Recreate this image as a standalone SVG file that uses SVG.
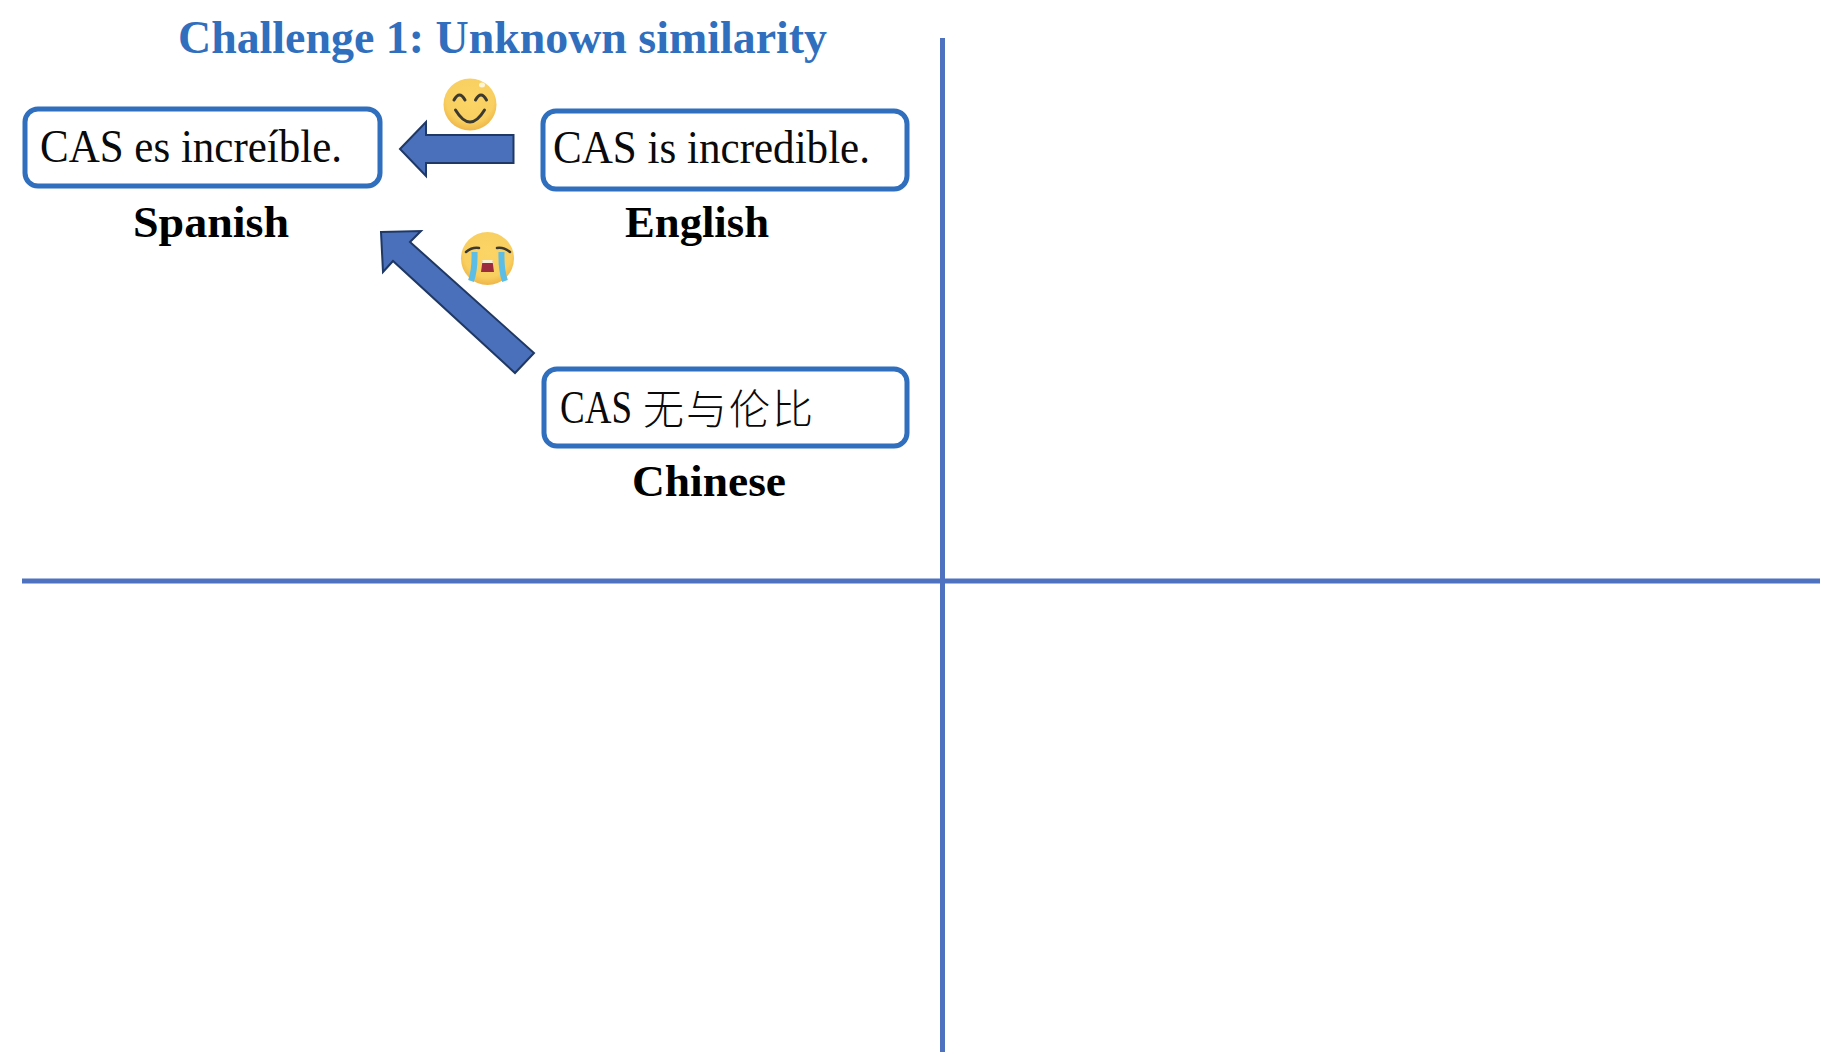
<svg xmlns="http://www.w3.org/2000/svg" width="1834" height="1062" viewBox="0 0 1834 1062">
<style>
text{font-family:"Liberation Serif","Noto Sans CJK SC",serif;fill:#0a0a0a}
.title{font-size:46px;font-weight:700;fill:#2f6fbd}
.box{fill:#fff;stroke:#2f6fbd;stroke-width:5}
.t{font-size:46px}
.cjk{font-family:"Noto Sans CJK SC",sans-serif;font-size:41px;font-weight:300}
.lab{font-size:45px;font-weight:700;fill:#000}
.axis{stroke:#4e72bf;stroke-width:5;fill:none}
.arrow{fill:#4a70bb;stroke:#1f3864;stroke-width:2;stroke-linejoin:miter}
.eye{fill:none;stroke:#3c3a30;stroke-width:3;stroke-linecap:round}
</style>
<defs>
<radialGradient id="face" cx="50%" cy="40%" r="60%">
<stop offset="0%" stop-color="#fbd566"/><stop offset="75%" stop-color="#f8cf60"/><stop offset="100%" stop-color="#efb648"/>
</radialGradient>
</defs>
<g id="connectors">
<line class="axis" x1="942.500" y1="38" x2="942.500" y2="1052"/>
<line class="axis" x1="22" y1="581" x2="1820" y2="581"/>
<polygon class="arrow" points="400,149 426,122 426,135 513.500,135 513.500,163 426,163 426,176"/>
<polygon class="arrow" points="381,232 421,231 410,242 534,353 515,373 393,261 383,272"/>
</g>
<g id="title"><text class="title" x="178" y="53" textLength="649" lengthAdjust="spacingAndGlyphs">Challenge 1: Unknown similarity</text></g>
<g id="node-spanish">
<rect class="box" x="25" y="109" width="355" height="77" rx="13"/>
<text class="t" x="40" y="162" textLength="302" lengthAdjust="spacingAndGlyphs">CAS es increíble.</text>
<text class="lab" x="133" y="237" textLength="156" lengthAdjust="spacingAndGlyphs">Spanish</text>
</g>
<g id="node-english">
<rect class="box" x="543" y="111" width="364" height="78" rx="13"/>
<text class="t" x="553" y="163" textLength="317" lengthAdjust="spacingAndGlyphs">CAS is incredible.</text>
<text class="lab" x="625" y="237" textLength="144" lengthAdjust="spacingAndGlyphs">English</text>
</g>
<g id="node-chinese">
<rect class="box" x="544" y="369" width="363" height="77" rx="13"/>
<text class="t" x="560" y="423" textLength="72" lengthAdjust="spacingAndGlyphs">CAS</text>
<text class="cjk" x="643" y="424" textLength="170">无与伦比</text>
<text class="lab" x="632" y="496" textLength="154" lengthAdjust="spacingAndGlyphs">Chinese</text>
</g>
<g id="emoji-smile">
<ellipse cx="470" cy="104.500" rx="26.500" ry="26" fill="url(#face)"/>
<ellipse cx="482" cy="85" rx="3" ry="2.500" fill="#fff6d8"/>
<path class="eye" d="M454 100q5.500-10 11 0M475.500 100q5.500-10 11 0M455.500 110q14.500 24 29 0"/>
</g>
<g id="emoji-cry">
<ellipse cx="487.500" cy="258.500" rx="26.500" ry="26.500" fill="url(#face)"/>
<path fill="none" stroke="#5cbde6" stroke-width="6" d="M474.500 252Q475 270 471 281M501.500 252Q501 270 505 281"/>
<path class="eye" style="stroke-width:2.500" d="M466 252q6-5 13-4M497 248q7-1 13 4"/>
<path fill="#9c2b3e" d="M482.500 261h10l1.500 11h-13z"/>
<path fill="#f6efd8" d="M482.500 260h10l.5 3h-11z"/>
</g>
</svg>
